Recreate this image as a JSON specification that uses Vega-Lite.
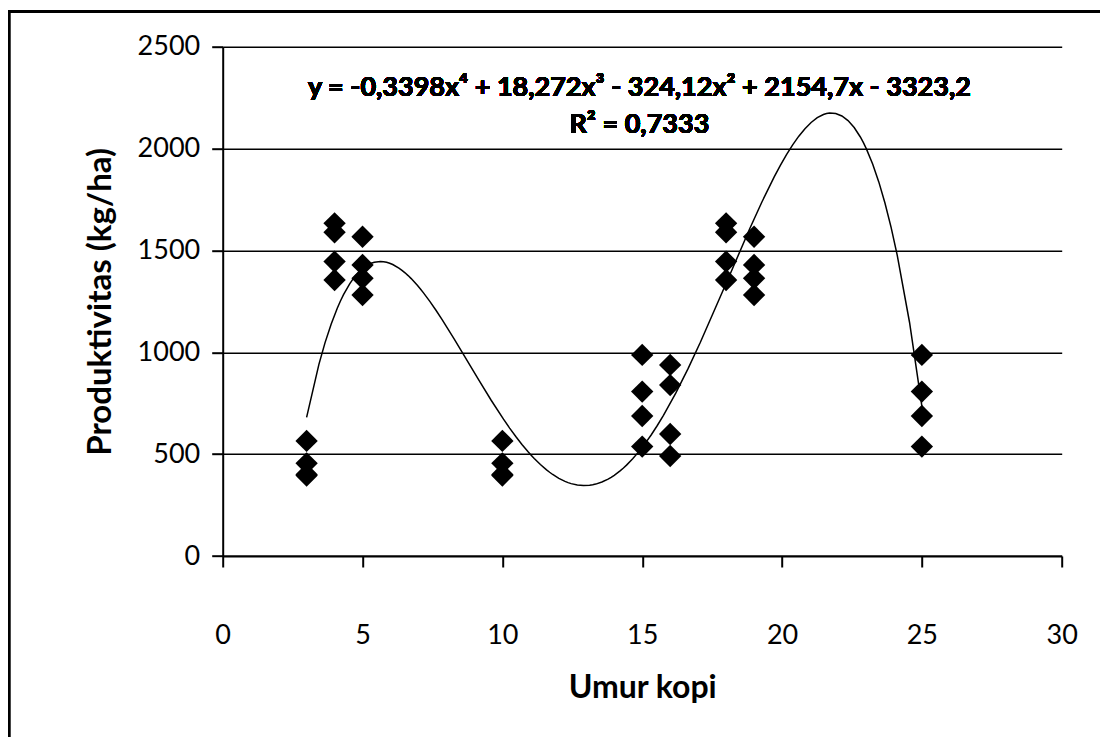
{
  "$schema": "https://vega.github.io/schema/vega-lite/v6.json",
  "autosize": {"type": "none"},
  "width": 839,
  "height": 509.3,
  "padding": {"left": 222.7, "top": 46.7, "right": 38.3, "bottom": 181},
  "background": "white",
  "config": {
    "view": {"stroke": null},
    "font": "Lato",
    "axis": {
      "labelFont": "Lato",
      "titleFont": "Lato",
      "labelColor": "black",
      "titleColor": "black",
      "domainColor": "black",
      "tickColor": "black",
      "gridColor": "black",
      "labelFlush": false
    }
  },
  "data": {
    "values": [
      {"umur": 3, "prod": 565}, {"umur": 3, "prod": 455}, {"umur": 3, "prod": 395}, {"umur": 3, "prod": 400},
      {"umur": 4, "prod": 1633}, {"umur": 4, "prod": 1589}, {"umur": 4, "prod": 1445}, {"umur": 4, "prod": 1355},
      {"umur": 5, "prod": 1567}, {"umur": 5, "prod": 1429}, {"umur": 5, "prod": 1363}, {"umur": 5, "prod": 1281},
      {"umur": 10, "prod": 565}, {"umur": 10, "prod": 455}, {"umur": 10, "prod": 395}, {"umur": 10, "prod": 400},
      {"umur": 15, "prod": 987}, {"umur": 15, "prod": 807}, {"umur": 15, "prod": 687}, {"umur": 15, "prod": 537},
      {"umur": 16, "prod": 938}, {"umur": 16, "prod": 839}, {"umur": 16, "prod": 599}, {"umur": 16, "prod": 491},
      {"umur": 18, "prod": 1633}, {"umur": 18, "prod": 1589}, {"umur": 18, "prod": 1445}, {"umur": 18, "prod": 1355},
      {"umur": 19, "prod": 1567}, {"umur": 19, "prod": 1429}, {"umur": 19, "prod": 1363}, {"umur": 19, "prod": 1281},
      {"umur": 25, "prod": 987}, {"umur": 25, "prod": 807}, {"umur": 25, "prod": 687}, {"umur": 25, "prod": 537}
    ]
  },
  "layer": [
    {
      "mark": {"type": "rect", "fill": "transparent", "stroke": "black", "strokeWidth": 2},
      "encoding": {
        "x": {"datum": -7.64, "type": "quantitative", "scale": {"domain": [0, 30], "nice": false}},
        "x2": {"datum": 40},
        "y": {"datum": 2672, "type": "quantitative", "scale": {"domain": [0, 2500], "nice": false}},
        "y2": {"datum": -1500}
      }
    },
    {
      "mark": {"type": "point", "shape": "diamond", "filled": true, "color": "black", "size": 500, "opacity": 1},
      "encoding": {
        "x": {
          "field": "umur", "type": "quantitative",
          "scale": {"domain": [0, 30], "nice": false},
          "axis": {
            "values": [0, 5, 10, 15, 20, 25, 30],
            "format": "d",
            "grid": false,
            "title": "Umur kopi",
            "titleFontSize": 32,
            "titleFontWeight": "bold",
            "titlePadding": 24,
            "labelFontSize": 27,
            "labelPadding": 55,
            "tickSize": 11,
            "tickWidth": 2,
            "domainWidth": 2
          }
        },
        "y": {
          "field": "prod", "type": "quantitative",
          "scale": {"domain": [0, 2500], "nice": false},
          "axis": {
            "values": [0, 500, 1000, 1500, 2000, 2500],
            "format": "d",
            "grid": true,
            "gridWidth": 1.5,
            "title": "Produktivitas  (kg/ha)",
            "titleFontSize": 33,
            "titleFontWeight": "bold",
            "titlePadding": 20,
            "labelFontSize": 27,
            "labelPadding": 12,
            "tickSize": 11,
            "tickWidth": 2,
            "domainWidth": 2
          }
        }
      }
    },
    {
      "transform": [
        {"regression": "prod", "on": "umur", "method": "poly", "order": 4}
      ],
      "mark": {"type": "line", "color": "black", "strokeWidth": 1.5},
      "encoding": {
        "x": {"field": "umur", "type": "quantitative"},
        "y": {"field": "prod", "type": "quantitative"}
      }
    },
    {
      "mark": {"type": "text", "fontSize": 27, "fontWeight": "bold", "font": "Lato", "fill": "black", "align": "center", "baseline": "middle"},
      "encoding": {
        "x": {"datum": 14.9, "type": "quantitative"},
        "y": {"datum": 2299, "type": "quantitative"},
        "text": {"value": "y = -0,3398x⁴ + 18,272x³ - 324,12x² + 2154,7x - 3323,2"}
      }
    },
    {
      "mark": {"type": "text", "fontSize": 27, "fontWeight": "bold", "font": "Lato", "fill": "black", "align": "center", "baseline": "middle"},
      "encoding": {
        "x": {"datum": 14.9, "type": "quantitative"},
        "y": {"datum": 2118, "type": "quantitative"},
        "text": {"value": "R² = 0,7333"}
      }
    }
  ]
}
